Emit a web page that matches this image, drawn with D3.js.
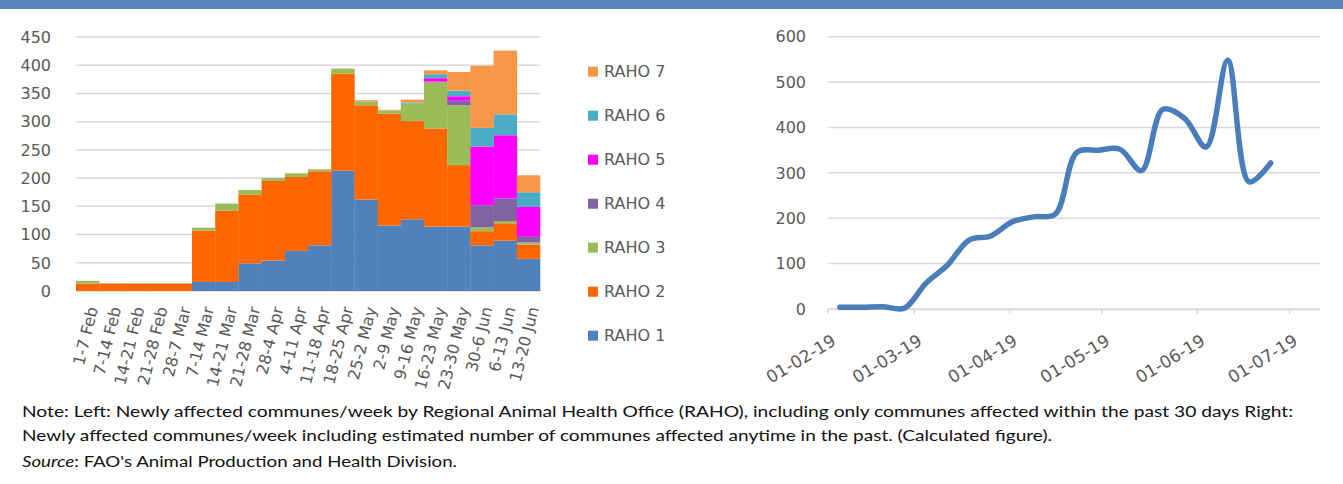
<!DOCTYPE html>
<html>
<head>
<meta charset="utf-8">
<script src="https://cdn.jsdelivr.net/npm/d3@7"></script>
<style>
  html, body { margin: 0; padding: 0; background: #fff; }
  svg { display: block; }
</style>
</head>
<body>
<div id="chart"></div>
<script>
// weekly categories, left chart
const weeks = ["1-7 Feb", "7-14 Feb", "14-21 Feb", "21-28 Feb", "28-7 Mar", "7-14 Mar", "14-21 Mar",
  "21-28 Mar", "28-4 Apr", "4-11 Apr", "11-18 Apr", "18-25 Apr", "25-2 May", "2-9 May", "9-16 May",
  "16-23 May", "23-30 May", "30-6 Jun", "6-13 Jun", "13-20 Jun"];

const raho1 = [0, 0, 0, 0, 0, 16, 16, 49, 54, 71, 81, 213, 162, 116, 127, 114, 114, 81, 89, 57];
const raho2 = [13, 13, 13, 13, 13, 91, 126, 122, 141, 131, 131, 172, 167, 198, 174, 174, 109, 25, 31, 25];
const raho3 = [5, 1, 1, 1, 1, 5, 13, 8, 5, 6, 3, 9, 6, 6, 31, 82, 106, 7, 4, 4];
const raho4 = [0, 0, 0, 0, 0, 0, 0, 0, 0, 0, 0, 0, 0, 0, 0, 1, 8, 39, 40, 10];
const raho5 = [0, 0, 0, 0, 0, 0, 0, 0, 0, 0, 0, 0, 0, 0, 0, 6, 8, 104, 112, 53];
const raho6 = [0, 0, 0, 0, 0, 0, 0, 0, 0, 0, 0, 0, 1, 0, 2, 7, 10, 33, 37, 26];
const raho7 = [0, 0, 0, 0, 0, 0, 0, 0, 0, 1, 1, 0, 2, 1, 5, 7, 33, 110, 113, 30];

const rahoNames = ["RAHO 1", "RAHO 2", "RAHO 3", "RAHO 4", "RAHO 5", "RAHO 6", "RAHO 7"];
const rahoColors = ["#4f81bd", "#ff6600", "#9bbb59", "#8064a2", "#ff00ff", "#4bacc6", "#f79646"];
const leftTicks = [0, 50, 100, 150, 200, 250, 300, 350, 400, 450];

// right chart, weekly points
const lineDates = ["2019-02-05", "2019-02-12", "2019-02-19", "2019-02-26", "2019-03-05", "2019-03-12",
  "2019-03-19", "2019-03-26", "2019-04-02", "2019-04-09", "2019-04-16", "2019-04-23", "2019-04-30",
  "2019-05-07", "2019-05-14", "2019-05-21", "2019-05-28", "2019-06-04", "2019-06-11", "2019-06-18",
  "2019-06-25"];
const lineValues = [4, 4, 5, 2, 57, 97, 152, 161, 192, 203, 209, 345, 350, 352, 305, 440, 420, 357, 548, 280, 322];
const rightTicks = [0, 100, 200, 300, 400, 500, 600];
const monthTicks = ["2019-02-01", "2019-03-01", "2019-04-01", "2019-05-01", "2019-06-01", "2019-07-01"];

const noteLines = [
  "Note: Left: Newly affected communes/week by Regional Animal Health Office (RAHO), including only communes affected within the past 30 days Right:",
  "Newly affected communes/week including estimated number of communes affected anytime in the past. (Calculated figure)."
];

const width = 1343, height = 484;
const gridColor = "#d9d9d9";
const textColor = "#595959";
const tickFont = "DejaVu Sans, sans-serif";

const svg = d3.select("#chart").append("svg")
  .attr("width", width)
  .attr("height", height);

// top band
svg.append("rect")
  .attr("x", 0).attr("y", 0)
  .attr("width", width).attr("height", 9)
  .attr("fill", "#5a83b8");

// ---------- left: stacked bars ----------
const table = weeks.map((w, i) => {
  const row = { week: w };
  [raho1, raho2, raho3, raho4, raho5, raho6, raho7].forEach((arr, k) => { row[rahoNames[k]] = arr[i]; });
  return row;
});

const xL = d3.scaleBand().domain(weeks).range([76, 540]).padding(0);
const yL = d3.scaleLinear().domain([0, 450]).range([291, 37]);

const left = svg.append("g");

left.append("g")
  .selectAll("line")
  .data(leftTicks)
  .join("line")
  .attr("x1", 76).attr("x2", 540)
  .attr("y1", d => yL(d)).attr("y2", d => yL(d))
  .attr("stroke", gridColor)
  .attr("stroke-width", 1.5);

left.append("g")
  .selectAll("text")
  .data(leftTicks)
  .join("text")
  .attr("x", 51)
  .attr("y", d => yL(d))
  .attr("dy", "0.36em")
  .attr("text-anchor", "end")
  .style("font-family", tickFont)
  .style("font-size", "16px")
  .attr("fill", textColor)
  .text(d => d);

const series = d3.stack().keys(rahoNames)(table);

left.append("g")
  .selectAll("g")
  .data(series)
  .join("g")
  .attr("fill", (d, i) => rahoColors[i])
  .selectAll("rect")
  .data(d => d)
  .join("rect")
  .attr("x", d => xL(d.data.week))
  .attr("y", d => yL(d[1]))
  .attr("width", xL.bandwidth() + 0.3)
  .attr("height", d => yL(d[0]) - yL(d[1]));

// x labels, slanted
const xAxisL = left.append("g")
  .attr("transform", "translate(0,291)")
  .call(d3.axisBottom(xL).tickSize(0));
xAxisL.select(".domain").remove();
xAxisL.selectAll("text")
  .attr("x", 0).attr("y", 0)
  .attr("dy", "0.35em")
  .attr("transform", "translate(5,16) rotate(-76)")
  .style("text-anchor", "end")
  .style("font-family", tickFont)
  .style("font-size", "16px")
  .attr("fill", textColor);

// legend
const legend = svg.append("g");
rahoNames.slice().reverse().forEach((name, i) => {
  const cy = 71.7 + i * 44;
  const k = rahoNames.indexOf(name);
  legend.append("rect")
    .attr("x", 588).attr("y", cy - 5)
    .attr("width", 10).attr("height", 10)
    .attr("fill", rahoColors[k]);
  legend.append("text")
    .attr("x", 604).attr("y", cy)
    .attr("dy", "0.36em")
    .style("font-family", tickFont)
    .style("font-size", "16px")
    .attr("fill", textColor)
    .text(name);
});

// ---------- right: smoothed line ----------
const parse = d3.timeParse("%Y-%m-%d");
const points = lineDates.map((d, i) => ({ date: parse(d), value: lineValues[i] }));

const xR = d3.scaleTime()
  .domain([parse("2019-02-01"), parse("2019-07-11")])
  .range([827.5, 1320]);
const yR = d3.scaleLinear().domain([0, 600]).range([309, 36.7]);

const right = svg.append("g");

right.append("g")
  .selectAll("line")
  .data(rightTicks)
  .join("line")
  .attr("x1", 827.5).attr("x2", 1320)
  .attr("y1", d => yR(d)).attr("y2", d => yR(d))
  .attr("stroke", gridColor)
  .attr("stroke-width", 1.5);

right.append("g")
  .selectAll("text")
  .data(rightTicks)
  .join("text")
  .attr("x", 806)
  .attr("y", d => yR(d))
  .attr("dy", "0.36em")
  .attr("text-anchor", "end")
  .style("font-family", tickFont)
  .style("font-size", "16px")
  .attr("fill", textColor)
  .text(d => d);

const xAxisR = right.append("g")
  .attr("transform", "translate(0,309)")
  .call(d3.axisBottom(xR)
    .tickValues(monthTicks.map(parse))
    .tickFormat(d3.timeFormat("%d-%m-%y"))
    .tickSize(5)
    .tickSizeOuter(0));
xAxisR.select(".domain").attr("stroke", gridColor).attr("stroke-width", 1.5);
xAxisR.selectAll(".tick line").attr("stroke", gridColor).attr("stroke-width", 1.5);
xAxisR.selectAll("text")
  .attr("x", 0).attr("y", 0).attr("dy", 0)
  .attr("transform", "translate(9,35) rotate(-31)")
  .style("text-anchor", "end")
  .style("font-family", tickFont)
  .style("font-size", "17px")
  .attr("fill", textColor);

const line = d3.line()
  .x(d => xR(d.date))
  .y(d => yR(d.value))
  .curve(d3.curveCatmullRom.alpha(0.5));

right.append("path")
  .datum(points)
  .attr("d", line)
  .attr("fill", "none")
  .attr("stroke", "#4a7ebb")
  .attr("stroke-width", 5.5)
  .attr("stroke-linecap", "round")
  .attr("stroke-linejoin", "round");

// ---------- notes ----------
const note = svg.append("g")
  .style("font-family", "Lato, 'Open Sans', sans-serif")
  .style("font-size", "16px")
  .attr("fill", "#111");

note.append("text")
  .attr("x", 22).attr("y", 417)
  .attr("textLength", 1271)
  .attr("lengthAdjust", "spacingAndGlyphs")
  .text(noteLines[0]);

note.append("text")
  .attr("x", 22).attr("y", 441)
  .attr("textLength", 1030)
  .attr("lengthAdjust", "spacingAndGlyphs")
  .text(noteLines[1]);

const src = note.append("text")
  .attr("x", 22).attr("y", 467)
  .attr("textLength", 435)
  .attr("lengthAdjust", "spacingAndGlyphs");
src.append("tspan").style("font-style", "italic").text("Source");
src.append("tspan").text(": FAO's Animal Production and Health Division.");
</script>
</body>
</html>
